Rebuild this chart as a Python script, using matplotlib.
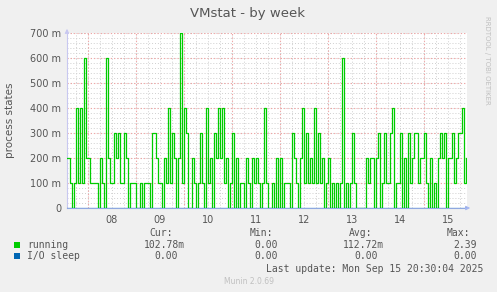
import numpy as np
import matplotlib
matplotlib.use("Agg")
import matplotlib.pyplot as plt
from matplotlib.ticker import FixedLocator

# hourly samples, values in process states (0.1 = 100 m)
running_a = [2, 2, 1, 0, 1, 4, 1, 4, 1, 6, 2, 2, 1, 1, 1, 1, 0, 2, 1, 0, 6, 2, 1, 1, 3, 2, 3, 1, 1, 3]
running_b = [2, 0, 1, 1, 1, 0, 0, 1, 0, 1, 1, 1, 0, 3, 3, 2, 1, 1, 0, 2, 1, 4, 1, 3, 2, 0, 2, 7, 1]
running_c = [4, 3, 0, 0, 2, 1, 0, 1, 3, 1, 0, 4, 1, 2, 0, 3, 2, 4, 2, 4, 1, 2, 0, 1, 3, 0, 2, 0, 1]
running_d = [1, 0, 2, 1, 0, 2, 1, 2, 1, 0, 1, 4, 1, 0, 0, 1, 0, 2, 0, 2, 0, 1, 1, 1, 0, 3, 2, 1, 0]
running_e = [2, 4, 1, 3, 1, 2, 1, 4, 1, 3, 1, 2, 0, 1, 2, 0, 1, 0, 1, 0, 1, 6, 0, 1, 0, 1, 3, 1, 0]
running_f = [0, 0, 0, 0, 2, 1, 2, 2, 0, 2, 3, 0, 1, 3, 1, 1, 3, 4, 0, 1, 1, 3, 0, 2, 0, 3, 1, 2, 3]
running_g = [3, 1, 2, 2, 3, 1, 0, 2, 0, 1, 0, 2, 3, 2, 3, 0, 2, 2, 3, 1, 2, 3, 3, 4, 1, 2]
running = [v / 10 for v in running_a + running_b + running_c + running_d + running_e + running_f + running_g]
io_sleep = [0.0] * len(running)

start_hour = -179           # hours relative to Sep 15 00:00
day_labels = ["08", "09", "10", "11", "12", "13", "14", "15"]
y_ticks = [0, 0.1, 0.2, 0.3, 0.4, 0.5, 0.6, 0.7]
y_labels = ["0", "100 m", "200 m", "300 m", "400 m", "500 m", "600 m", "700 m"]

hours = np.arange(len(running)) + start_hour

W, H = 497, 292
fig = plt.figure(figsize=(W / 100, H / 100), dpi=100, facecolor="#F0F0F0")
ax = fig.add_axes([67 / W, (H - 208) / H, 400 / W, 175 / H], facecolor="white")

ax.set_xlim(-178.5, 21.5)
ax.set_ylim(0, 0.7)

# grid
for yv in np.arange(0, 0.7001, 0.02):
    ax.axhline(yv, color="#CFCFCF", lw=0.7, ls=(0, (1, 2)), zorder=0)
for yv in y_ticks[1:]:
    ax.axhline(yv, color="#F2A0A0", lw=0.8, ls=(0, (1, 2)), zorder=0)
for xv in np.arange(-180, 24, 6):
    ax.axvline(xv, color="#CFCFCF", lw=0.7, ls=(0, (1, 2)), zorder=0)
for xv in np.arange(-168, 24, 24):
    ax.axvline(xv, color="#F2A0A0", lw=0.8, ls=(0, (1, 2)), zorder=0)

ax.plot(hours, running, drawstyle="steps-post", color="#00CC00", lw=0.9, zorder=3)
ax.plot(hours, io_sleep, drawstyle="steps-post", color="#0066B3", lw=1.0, zorder=4, alpha=0.5)

for s in ["top", "right"]:
    ax.spines[s].set_visible(False)
ax.spines["left"].set_color("#C8C8F0")
ax.spines["bottom"].set_color("#8FA8E0")
ax.spines["left"].set_linewidth(0.8)
ax.spines["bottom"].set_linewidth(0.8)

ax.yaxis.set_major_locator(FixedLocator(y_ticks))
ax.set_yticklabels(y_labels)
ax.xaxis.set_major_locator(FixedLocator([-156 + 24 * i for i in range(len(day_labels))]))
ax.set_xticklabels(day_labels)
ax.tick_params(axis="both", length=0, labelsize=7, colors="#555555", pad=4)
ax.tick_params(axis="x", pad=5)

# arrows
ax.annotate("", xy=(0, 1.04), xytext=(0, 0.99), xycoords="axes fraction",
            arrowprops=dict(arrowstyle="-|>", color="#C8C8F0", lw=0.8, mutation_scale=6))
ax.annotate("", xy=(1.015, 0), xytext=(0.99, 0), xycoords="axes fraction",
            arrowprops=dict(arrowstyle="-|>", color="#A8B8F0", lw=0.8, mutation_scale=6))

fig.text(248 / W, 1 - 13 / H, "VMstat - by week", ha="center", va="center", fontsize=9.5, color="#555555")
fig.text(10 / W, 1 - 120 / H, "process states", ha="center", va="center", rotation=90, fontsize=7.5, color="#555555")
fig.text(487 / W, 1 - 60 / H, "RRDTOOL / TOBI OETIKER", ha="center", va="center", rotation=-90,
         fontsize=5, color="#C0C0C0")

mono = dict(family="DejaVu Sans Mono", fontsize=7, color="#555555")


def px(x, y):
    return x / W, 1 - y / H


for lbl, xr in [("Cur:", 173), ("Min:", 273), ("Avg:", 372), ("Max:", 470)]:
    fig.text(*px(xr, 233), lbl, ha="right", va="center", **mono)

rows = [
    ("running", "#00CC00", 245, ["102.78m", "0.00", "112.72m", "2.39"]),
    ("I/O sleep", "#0066B3", 256, ["0.00", "0.00", "0.00", "0.00"]),
]
for name, col, y, vals in rows:
    fig.patches.append(plt.Rectangle(px(14, y + 3), 6 / W, 6 / H, transform=fig.transFigure,
                                     facecolor=col, edgecolor="none"))
    fig.text(*px(27, y), name, ha="left", va="center", **mono)
    for v, xr in zip(vals, [185, 278, 384, 477]):
        if v == "0.00" and xr == 185:
            xr = 178
        if v == "0.00" and xr == 384:
            xr = 378
        fig.text(*px(xr, y), v, ha="right", va="center", **mono)

fig.text(*px(483, 269), "Last update: Mon Sep 15 20:30:04 2025", ha="right", va="center", **mono)
fig.text(*px(249, 281), "Munin 2.0.69", ha="center", va="center", fontsize=5.5, color="#C0C0C0")

fig.savefig("out.png", dpi=100, facecolor=fig.get_facecolor())
